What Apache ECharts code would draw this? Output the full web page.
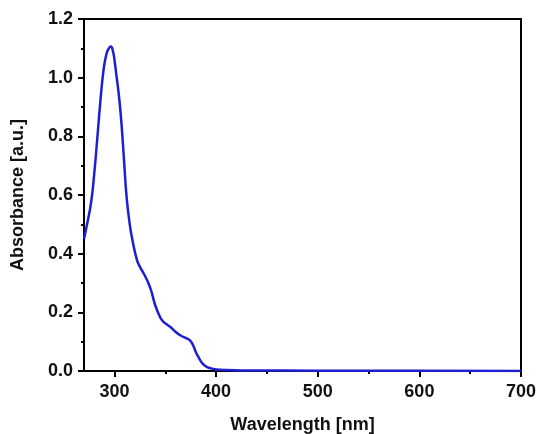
<!DOCTYPE html>
<html>
<head>
<meta charset="utf-8">
<script src="https://cdn.jsdelivr.net/npm/echarts@6/dist/echarts.min.js"></script>
<style>
html,body{margin:0;padding:0;background:#fff;}
#c{width:540px;height:434px;}
</style>
</head>
<body>
<div id="c"></div>
<script>
const wavelength = [270,273,277,280,283,286,289,292,294.5,296.5,298.5,300,302,304,306,308,310,312,315,318,322,325,328,332,335,337,340,344,347,351,355,360,365,370,374,377,380,383,386,389,392,396,400,410,430,500,600,700];
const absorbance = [0.45,0.50,0.575,0.67,0.79,0.915,1.02,1.08,1.10,1.106,1.09,1.06,1.005,0.95,0.88,0.79,0.685,0.59,0.50,0.44,0.38,0.355,0.337,0.31,0.285,0.263,0.225,0.19,0.172,0.16,0.15,0.134,0.121,0.113,0.105,0.09,0.065,0.045,0.028,0.018,0.012,0.008,0.005,0.003,0.002,0.001,0.0005,0.0];
const xMajorTicks = [300,400,500,600,700];
const xMinorTicks = [350,450,550,650];
const yTicks = [0.0,0.2,0.4,0.6,0.8,1.0,1.2];

const data = wavelength.map((w,i)=>[w,absorbance[i]]);
const font = '"Liberation Sans", Arial, sans-serif';
const chart = echarts.init(document.getElementById('c'));
chart.setOption({
  animation:false,
  backgroundColor:'#ffffff',
  grid:{left:84,right:19,top:19,bottom:63,containLabel:false,outerBoundsMode:'none',show:true,borderColor:'#000',borderWidth:2,backgroundColor:'transparent'},
  xAxis:[{
    type:'value',min:270,max:700,
    name:'Wavelength [nm]',nameLocation:'middle',nameGap:45,
    nameTextStyle:{fontFamily:font,fontWeight:'bold',fontSize:18,color:'#111'},
    axisLine:{show:true,lineStyle:{color:'#000',width:2}},
    axisTick:{show:true,inside:false,length:6,lineStyle:{color:'#000',width:2},customValues:xMajorTicks},
    axisLabel:{show:true,margin:12,fontFamily:font,fontWeight:'bold',fontSize:18,color:'#111',customValues:xMajorTicks},
    splitLine:{show:false}
  },{
    type:'value',min:270,max:700,position:'bottom',
    axisLine:{show:false},
    axisTick:{show:true,inside:false,length:3,lineStyle:{color:'#000',width:2},customValues:xMinorTicks},
    axisLabel:{show:false},
    splitLine:{show:false}
  }],
  yAxis:{
    type:'value',min:0,max:1.2,interval:0.2,
    name:'Absorbance [a.u.]',nameLocation:'middle',nameGap:57,nameRotate:90,
    nameTextStyle:{fontFamily:font,fontWeight:'bold',fontSize:18,color:'#111'},
    axisLine:{show:true,lineStyle:{color:'#000',width:2}},
    axisTick:{show:true,inside:false,length:6,lineStyle:{color:'#000',width:2}},
    minorTick:{show:true,splitNumber:2,length:3,lineStyle:{color:'#000',width:2}},
    axisLabel:{margin:11,fontFamily:font,fontWeight:'bold',fontSize:18,color:'#111',formatter:v=>v.toFixed(1)},
    splitLine:{show:false}
  },
  series:[{
    type:'line',data:data,smooth:0.5,showSymbol:false,symbol:'none',
    lineStyle:{color:'#1e1ed2',width:2.5},
    xAxisIndex:0
  }]
});
</script>
</body>
</html>
